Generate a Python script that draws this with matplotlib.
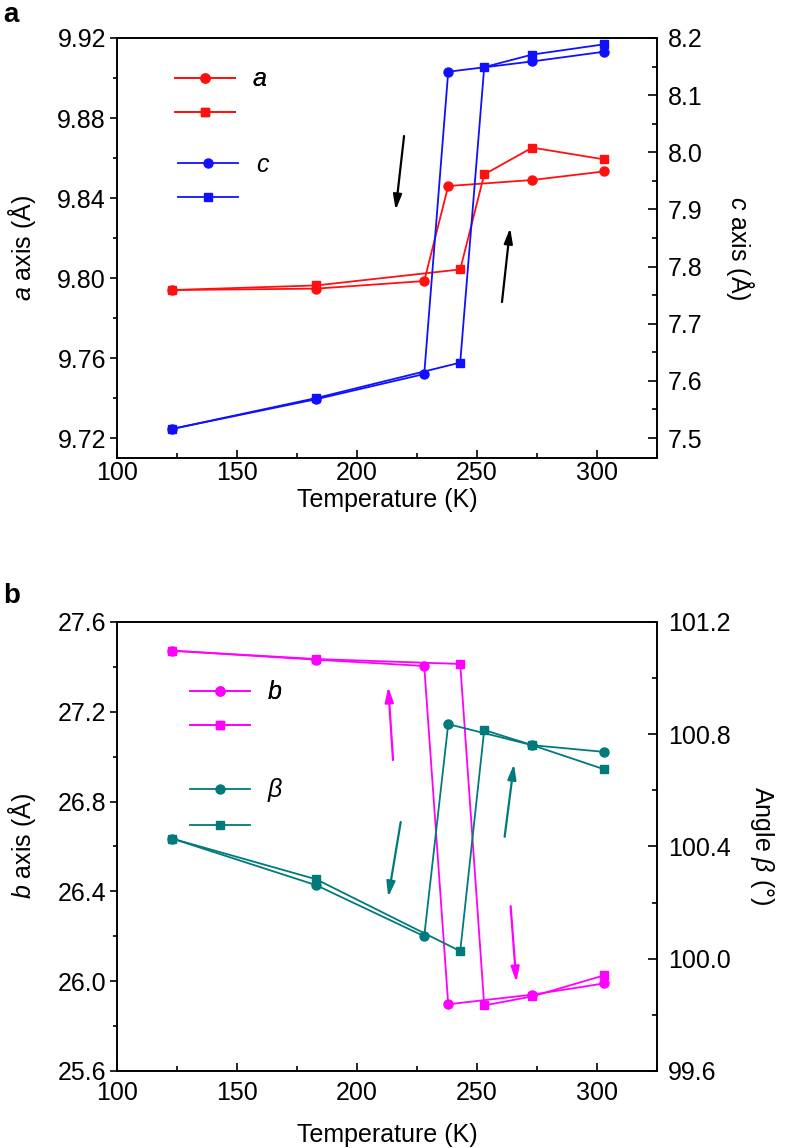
import matplotlib.pyplot as plt
from matplotlib.ticker import MultipleLocator, FormatStrFormatter

plt.rcParams['font.family'] = ['Liberation Sans', 'DejaVu Sans']
plt.rcParams['mathtext.fontset'] = 'custom'
plt.rcParams['mathtext.rm'] = 'Liberation Sans'
plt.rcParams['mathtext.it'] = 'Liberation Sans:italic'
plt.rcParams['font.size'] = 18

# temperatures (K): cooling run (circles) and warming run (squares)
T_cool = [123, 183, 228, 238, 273, 303]
T_warm = [123, 183, 243, 253, 273, 303]

a_cool = [9.794, 9.7947, 9.7985, 9.846, 9.849, 9.8533]
a_warm = [9.794, 9.7963, 9.8043, 9.8518, 9.8652, 9.8593]
c_cool = [7.516, 7.568, 7.612, 8.141, 8.159, 8.176]
c_warm = [7.516, 7.570, 7.632, 8.149, 8.171, 8.189]

b_cool = [27.472, 27.432, 27.404, 25.897, 25.940, 25.990]
b_warm = [27.472, 27.435, 27.413, 25.892, 25.932, 26.026]
beta_cool = [100.428, 100.262, 100.080, 100.836, 100.761, 100.737]
beta_warm = [100.428, 100.283, 100.027, 100.815, 100.761, 100.675]

# arrows: (tail, tip) in (T, left-axis value)
arrows_a = [((219.6, 9.871), (216.1, 9.834)),
            ((260.4, 9.788), (263.8, 9.825))]
arrows_b = [((215.0, 26.985), (213.0, 27.311), 'magenta'),
            ((218.2, 26.709), (213.0, 26.375), '#007a7a'),
            ((261.5, 26.643), (265.4, 26.967), '#007a7a'),
            ((264.0, 26.334), (266.4, 25.996), 'magenta')]

RED = '#ff1010'
BLUE = '#1010ff'
MAG = '#ff00ff'
TEAL = '#007a7a'
lw = 1.3
ms = 6.5


def style(ax, tw, ylim_l, ylim_r, step_l, step_r, fmt_l, fmt_r, xpad):
    ax.set_xlim(100, 325)
    ax.xaxis.set_major_locator(MultipleLocator(50))
    ax.xaxis.set_minor_locator(MultipleLocator(25))
    ax.set_ylim(*ylim_l)
    ax.yaxis.set_major_locator(MultipleLocator(step_l))
    ax.yaxis.set_minor_locator(MultipleLocator(step_l / 2))
    ax.yaxis.set_major_formatter(FormatStrFormatter(fmt_l))
    tw.set_ylim(*ylim_r)
    tw.yaxis.set_major_locator(MultipleLocator(step_r))
    tw.yaxis.set_minor_locator(MultipleLocator(step_r / 2))
    tw.yaxis.set_major_formatter(FormatStrFormatter(fmt_r))
    ax.tick_params(axis='x', which='both', direction='in', top=False, pad=xpad, width=1.2)
    ax.tick_params(axis='x', which='major', length=5.5)
    ax.tick_params(axis='x', which='minor', length=3.5)
    ax.tick_params(axis='y', which='both', direction='out', right=False, pad=3, width=1.2)
    ax.tick_params(axis='y', which='major', length=5)
    ax.tick_params(axis='y', which='minor', length=3)
    tw.tick_params(axis='y', which='both', direction='in', pad=8, width=1.2)
    tw.tick_params(axis='y', which='major', length=6.5)
    tw.tick_params(axis='y', which='minor', length=3.5)
    for s in list(ax.spines.values()) + list(tw.spines.values()):
        s.set_linewidth(1.2)


def arrow(ax, tail, tip, color):
    ax.annotate('', xy=tip, xytext=tail,
                arrowprops=dict(arrowstyle='-|>,head_length=0.6,head_width=0.17',
                                color=color, lw=1.6, mutation_scale=15,
                                shrinkA=0, shrinkB=0))


fig = plt.figure(figsize=(7.86, 11.48), dpi=100)

# ---- panel a
ax1 = fig.add_axes([0.1489, 0.6010, 0.687, 0.3659])
tw1 = ax1.twinx()
h1, = ax1.plot(T_cool, a_cool, 'o-', color=RED, lw=lw, ms=ms)
h2, = ax1.plot(T_warm, a_warm, 's-', color=RED, lw=lw, ms=ms - 0.5)
h3, = tw1.plot(T_cool, c_cool, 'o-', color=BLUE, lw=lw, ms=ms)
h4, = tw1.plot(T_warm, c_warm, 's-', color=BLUE, lw=lw, ms=ms - 0.5)
style(ax1, tw1, (9.71, 9.92), (7.465, 8.2), 0.04, 0.1, '%.2f', '%.1f', 2)
for tail, tip in arrows_a:
    arrow(ax1, tail, tip, 'k')

legkw = dict(loc='upper left', frameon=False, borderpad=0, borderaxespad=0,
             handlelength=2.4, labelspacing=0.4, handletextpad=0.7, numpoints=1)
leg = ax1.legend([h1, h2], ['$a$', ''], bbox_to_anchor=(0.107, 0.93), **legkw)
ax1.add_artist(leg)
tw1.legend([h3, h4], ['$c$', ''], bbox_to_anchor=(0.113, 0.727), **legkw)

# ---- panel b
ax2 = fig.add_axes([0.1489, 0.0671, 0.687, 0.3911])
tw2 = ax2.twinx()
g1, = ax2.plot(T_cool, b_cool, 'o-', color=MAG, lw=lw, ms=ms)
g2, = ax2.plot(T_warm, b_warm, 's-', color=MAG, lw=lw, ms=ms - 0.5)
g3, = tw2.plot(T_cool, beta_cool, 'o-', color=TEAL, lw=lw, ms=ms)
g4, = tw2.plot(T_warm, beta_warm, 's-', color=TEAL, lw=lw, ms=ms - 0.5)
style(ax2, tw2, (25.6, 27.6), (99.6, 101.2), 0.4, 0.4, '%.1f', '%.1f', 7)
for tail, tip, col in arrows_b:
    arrow(ax2, tail, tip, col)

leg = ax2.legend([g1, g2], ['$b$', ''], bbox_to_anchor=(0.135, 0.870), **legkw)
ax2.add_artist(leg)
tw2.legend([g3, g4], [r'$\beta$', ''], bbox_to_anchor=(0.135, 0.656), **legkw)

# ---- labels
W, H = 786.0, 1148.0
fig.text(22 / W, 1 - 248 / H, '$a$ axis (Å)', rotation=90, ha='center', va='center')
fig.text(740 / W, 1 - 248 / H, '$c$ axis (Å)', rotation=-90, ha='center', va='center')
fig.text(387 / W, 1 - 500 / H, 'Temperature (K)', ha='center', va='center')
fig.text(22 / W, 1 - 846 / H, '$b$ axis (Å)', rotation=90, ha='center', va='center')
fig.text(762 / W, 1 - 846 / H, r'Angle $\beta$ (°)', rotation=-90, ha='center', va='center')
fig.text(387 / W, 1 - 1135 / H, 'Temperature (K)', ha='center', va='center')
fig.text(3 / W, 1 - 2 / H, 'a', fontsize=20, fontweight='bold', ha='left', va='top')
fig.text(3 / W, 1 - 583 / H, 'b', fontsize=20, fontweight='bold', ha='left', va='top')

fig.savefig('out.png', dpi=100)
